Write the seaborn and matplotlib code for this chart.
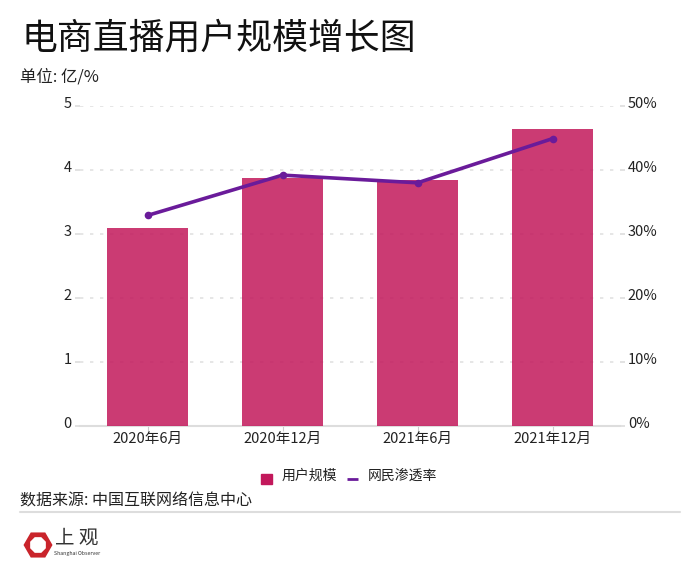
import matplotlib
matplotlib.use("Agg")
import matplotlib.pyplot as plt
from matplotlib.lines import Line2D
from matplotlib.patches import Patch, RegularPolygon
from matplotlib.transforms import ScaledTranslation
import seaborn as sns

periods = ["2020年6月", "2020年12月", "2021年6月", "2021年12月"]
users = [3.09, 3.88, 3.84, 4.64]
rate = [32.9, 39.2, 38.0, 44.9]
left_ticks = [0, 1, 2, 3, 4, 5]
right_ticks = [0, 10, 20, 30, 40, 50]

sns.set_theme(style="white")
plt.rcParams['font.family'] = ['Noto Sans CJK SC', 'DejaVu Sans']

W, H = 700, 576
fig = plt.figure(figsize=(W / 100, H / 100), dpi=100)
ax = fig.add_axes([80 / W, 1 - 426 / H, 540 / W, 320 / H])

# bars on the left axis
sns.barplot(x=periods, y=users, ax=ax, color="#C2185B", width=0.6, alpha=0.85,
            saturation=1, linewidth=0, zorder=3)
ax.set_xlim(-0.5, 3.5)
ax.set_ylim(0, 5)
ax.set_yticks(left_ticks)
ax.yaxis.grid(True, linestyle=(0, (2, 4)), color="#e2e2e2", linewidth=1.2, zorder=0)
ax.set_axisbelow(True)
ax.tick_params(axis="y", length=3.6, color="#dddddd", width=1.2, labelsize=10.5,
               labelcolor="#222222", pad=2.5)
ax.tick_params(axis="x", length=3.6, color="#cccccc", width=0.8, labelsize=10.5,
               labelcolor="#222222", pad=1, bottom=True)
ax.set_xlabel("")
ax.set_ylabel("")
for side in ["top", "left", "right"]:
    ax.spines[side].set_visible(False)
ax.spines["bottom"].set_color("#dddddd")
ax.spines["bottom"].set_linewidth(1.5)

# line on the right axis
ax2 = ax.twinx()
sns.lineplot(x=periods, y=rate, ax=ax2, color="#6A1B9A", linewidth=2.6, marker="o",
             markersize=5.5, markeredgewidth=0, sort=False, errorbar=None, zorder=5)
ax2.set_ylim(0, 50)
ax2.set_yticks(right_ticks)
ax2.set_yticklabels([f"{t}%" for t in right_ticks])
ax2.grid(False)
ax2.tick_params(axis="y", length=3.6, color="#dddddd", width=1.2, labelsize=10.5,
                labelcolor="#222222", pad=2)
ax2.set_ylabel("")
for side in ["top", "left", "right", "bottom"]:
    ax2.spines[side].set_visible(False)

# tick labels sit a little above the grid lines
lift = ScaledTranslation(0, 4 / 100, fig.dpi_scale_trans)
for t in ax.get_yticklabels() + ax2.get_yticklabels():
    t.set_transform(t.get_transform() + lift)

# titles and notes
fig.text(21 / W, 1 - 39 / H, "电商直播用户规模增长图", fontsize=25.8, color="#111111", va="center")
fig.text(20 / W, 1 - 77 / H, "单位: 亿/%", fontsize=11.8, color="#222222", va="center")
fig.text(20 / W, 1 - 501 / H, "数据来源: 中国互联网络信息中心", fontsize=11.5, color="#222222", va="center")

# legend
handles = [Patch(color="#C2185B", label="用户规模"),
           Line2D([0], [0], color="#6A1B9A", linewidth=2, solid_capstyle="butt", label="网民渗透率")]
leg = fig.legend(handles=handles, loc="center", bbox_to_anchor=(349 / W, 1 - 475.5 / H), ncol=2,
                 frameon=False, fontsize=10, handlelength=0.8, handleheight=0.8,
                 handletextpad=0.65, columnspacing=0.75, labelcolor="#222222")
# the reference keeps its legend keys a bit below the text
square, dash = leg.legend_handles
square.set_y(square.get_y() - 3)
dash.set_ydata(dash.get_ydata() - 3)

# footer rule and logo
fig.add_artist(Line2D([20 / W, 680 / W], [1 - 512 / H, 1 - 512 / H], color="#dddddd", linewidth=1.5))
logo = fig.add_axes([0, 0, 1, 1], facecolor="none")
logo.set_xlim(0, W)
logo.set_ylim(H, 0)
logo.axis("off")
logo.add_patch(RegularPolygon((38, 545), 6, radius=14.5, orientation=1.5708,
                              color="#C9242B", linewidth=0))
logo.add_patch(RegularPolygon((38, 545), 8, radius=8.5, orientation=0.3927,
                              color="white", linewidth=0))
logo.text(77, 538, "上 观", fontsize=14, color="#333333", ha="center", va="center")
logo.text(77, 554, "Shanghai Observer", fontsize=3.8, color="#333333", ha="center", va="center")

fig.savefig("out.png", dpi=100)
